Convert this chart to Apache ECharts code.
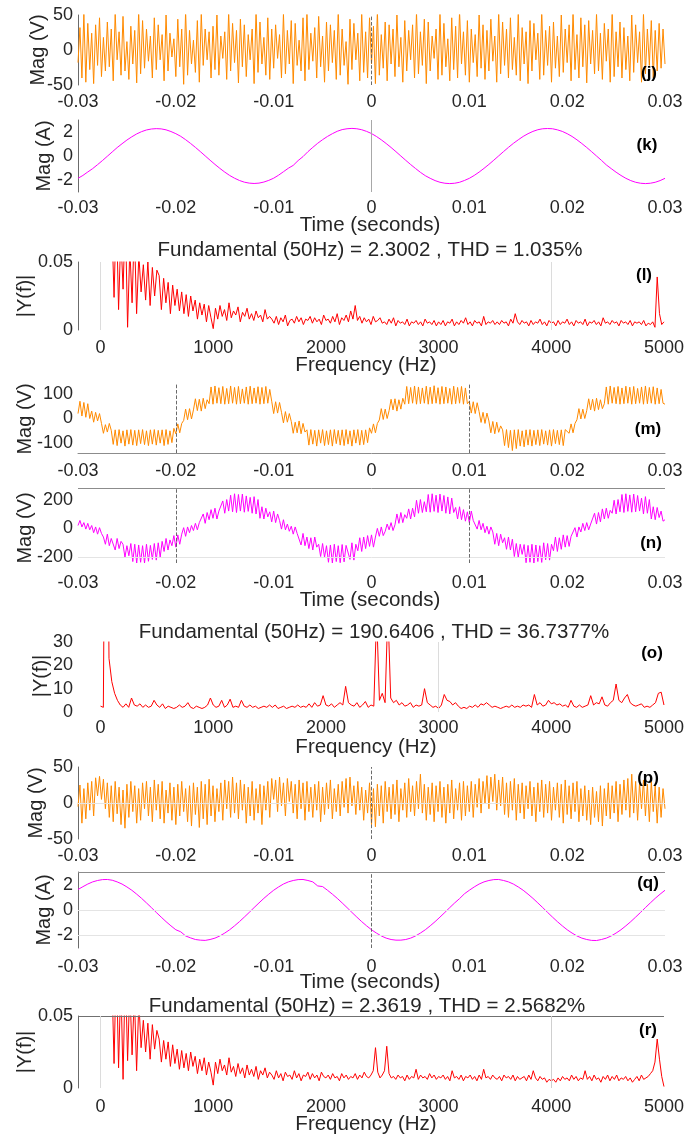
<!DOCTYPE html>
<html>
<head>
<meta charset="utf-8">
<script src="https://cdn.jsdelivr.net/npm/echarts@6.0.0/dist/echarts.min.js"></script>
<style>
html,body{margin:0;padding:0;background:#ffffff;}
#chart{width:687px;height:1137px;}
</style>
</head>
<body>
<div id="chart"></div>
<script>
// ---- sampling ranges ----
const T_START = -0.03, T_END = 0.03;        // time window (s)
const F_AXIS_MIN = -200, F_AXIS_MAX = 5000;  // spectrum axis range (Hz)

// ---- headline values ----
const FUND_L = 2.3002,   THD_L = 1.035;
const FUND_O = 190.6406, THD_O = 36.7377;
const FUND_R = 2.3619,   THD_R = 2.5682;

// (j) voltage, V
const voltJ = [
-18,32,-40,52,-46,38,-28,24,-48,36,-22,46,-38,18,-30,40,-24,30,-44,52,
-14,26,-36,48,-30,12,-42,34,-20,28,-47,55,-34,42,-26,30,-16,20,-40,46,
-28,36,-14,22,-44,50,-30,24,-10,16,-38,44,-24,30,-49,56,-36,28,-20,14,
-32,42,-46,52,-22,30,-14,26,-40,34,-28,50,-36,20,-12,26,-42,54,-30,38,
-18,28,-47,44,-24,36,-38,22,-14,30,-48,56,-32,40,-20,18,-36,46,-42,30,
-26,36,-12,22,-40,52,-34,28,-20,42,-48,38,-22,14,-30,46,-44,54,-28,24,
-16,32,-40,48,-24,20,-46,40,-30,36,-18,28,-42,54,-36,30,-22,12,-49,44,
-28,38,-14,24,-44,52,-32,26,-40,46,-20,34,-48,56,-36,22,-26,40,-44,36,
-20,30,-38,50,-24,18,-46,42,-30,28,-14,36,-40,54,-34,26,-22,44,-48,40,
-30,20,-12,30,-42,52,-36,38,-24,16,-44,46,-28,34,-40,56,-20,26,-36,42,
-46,30,-18,22,-38,50,-26,36,-42,28,-30,44,-16,20,-46,54,-34,40,-22,30,
-40,46,-28,18,-36,52,-44,32,-20,26,-48,42,-30,38,-14,24,-42,56,-36,28,
-22,34,-46,40,-26,20,-38,50,-32,30,-18,36,-44,54,-28,22,-40,46,-24,36,
-47,42,-20,28,-34,52,-30,24,-42,38,-16,30,-46,56,-38,26,-24,40,-40,32,
-28,20,-44,50,-32,36,-18,26,-46,52,-34,30,-22,42,-40,28,-30,38,-26,30,
-20];

// (k) current, A
const currK = [
-1.86,-1.62,-1.33,-1.05,-0.72,-0.38,-0.02,0.34,0.70,1.02,1.33,1.60,1.84,2.03,2.17,2.25,
2.28,2.26,2.18,2.04,1.86,1.64,1.36,1.05,0.72,0.37,0.01,-0.35,-0.70,-1.03,-1.34,-1.62,-1.85,-2.04,-2.18,-2.26,
-2.29,-2.26,-2.17,-2.03,-1.85,-1.60,-1.31,-1.02,-0.78,-0.38,-0.05,0.36,0.72,1.06,1.36,1.63,1.86,2.06,2.20,2.27,
2.30,2.27,2.19,2.05,1.87,1.63,1.35,1.04,0.71,0.36,0.00,-0.36,-0.71,-1.04,-1.36,-1.64,-1.86,-2.05,-2.19,-2.27,
-2.30,-2.27,-2.19,-2.04,-1.86,-1.62,-1.34,-1.03,-0.70,-0.35,0.01,0.37,0.72,1.05,1.35,1.63,1.86,2.05,2.19,2.27,
2.29,2.27,2.18,2.05,1.86,1.63,1.35,1.04,0.71,0.36,0.00,-0.36,-0.74,-1.05,-1.35,-1.62,-1.86,-2.05,-2.19,-2.27,
-2.30,-2.27,-2.19,-2.05,-1.86];

// (l) current spectrum |Y(f)|, from 100 Hz in 20 Hz bins
const specL_f0 = 100, specL_df = 20;
const specL = [
0.08,0.024,0.09,0.015,0.07,0.03,0.085,0.002,0.06,0.02,0.075,0.012,0.055,0.028,
0.048,0.022,0.05,0.018,0.046,0.025,0.044,
0.04,0.015,0.038,0.02,0.035,0.012,0.033,0.018,0.03,0.014,
0.028,0.012,0.026,0.01,0.025,0.014,0.022,0.008,0.02,0.011,0.019,0.006,0.018,0.009,0.001,
0.016,0.008,0.018,0.01,0.015,0.007,0.02,0.009,0.014,0.011,0.017,0.006,0.013,0.01,0.016,0.008,0.012,0.007,0.014,0.009,0.011,0.006,0.015,0.008,0.01,
0.008,0.005,0.01,0.004,0.009,0.006,0.011,0.003,0.007,0.008,0.005,0.01,0.006,0.009,0.004,0.008,0.007,0.01,0.005,0.009,0.006,0.008,0.004,0.011,0.007,
0.008,0.005,0.01,0.006,0.012,0.004,0.009,0.007,0.011,0.006,0.014,0.008,0.018,0.007,0.01,0.005,0.009,0.006,0.008,0.004,0.01,0.006,0.007,0.009,0.005,
0.006,0.004,0.008,0.005,0.009,0.003,0.007,0.005,0.006,0.004,0.008,0.003,0.006,0.005,0.007,0.004,0.006,0.003,0.008,0.005,0.006,0.004,0.007,0.003,0.006,
0.004,0.007,0.003,0.006,0.005,0.008,0.003,0.006,0.004,0.007,0.005,0.009,0.004,0.006,0.003,0.007,0.005,0.006,0.003,0.01,0.004,0.006,0.005,0.007,0.004,
0.006,0.004,0.007,0.005,0.006,0.003,0.008,0.005,0.012,0.006,0.004,0.007,0.005,0.006,0.003,0.007,0.004,0.006,0.005,0.008,0.004,0.006,0.003,0.007,0.005,
0.006,0.003,0.007,0.004,0.006,0.005,0.008,0.004,0.006,0.003,0.007,0.005,0.006,0.004,0.008,0.003,0.006,0.005,0.007,0.004,0.006,0.003,0.009,0.005,0.006,
0.004,0.007,0.005,0.006,0.003,0.007,0.005,0.006,0.004,0.007,0.003,0.006,0.005,0.006,0.004,0.007,0.003,0.005,0.004,0.006,
0.002,0.039,0.012,0.004,0.006];

// (m) voltage, V
const voltM = [
20,70,10,65,5,60,0,
30,-15,25,-10,20,
-20,-60,-25,-55,-20,
-48,-105,-46,-110,-45,-100,-50,-112,-46,-104,-45,-108,-48,-110,-46,-102,-45,-106,-50,-110,-46,-104,-45,-108,-48,-100,-46,-110,-45,-105,-50,-98,
-40,-62,-22,-58,-20,
-8,38,-5,40,-2,
35,80,32,78,30,82,40,76,
60,128,58,132,62,125,60,130,58,122,60,132,62,126,58,130,60,120,62,128,58,131,60,124,62,129,58,126,60,130,62,118,
70,20,68,22,65,
25,-18,28,-15,20,
-12,-60,-15,-58,-10,-62,-20,-55,
-46,-108,-45,-104,-48,-112,-46,-100,-45,-110,-50,-106,-46,-112,-45,-102,-48,-108,-46,-110,-45,-104,-50,-112,-46,-100,-45,-108,-48,-106,-46,-98,
-38,-60,-22,-58,-20,
-6,40,-4,38,0,
32,78,35,80,30,76,38,82,
58,130,60,126,62,132,58,128,60,124,62,131,58,127,60,133,62,125,58,130,60,128,62,122,58,131,60,126,62,130,58,124,60,
70,22,68,20,64,
28,-16,25,-20,22,
-10,-58,-12,-62,-15,-56,-30,
-46,-110,-45,-118,-48,-130,-46,-122,-45,-112,-50,-115,-46,-108,-45,-112,-48,-106,-46,-110,-45,-104,-50,-108,-46,-112,-45,-102,-48,-106,-46,-110,-45,
-40,-60,-22,-58,-20,
-5,40,-2,38,0,
32,80,35,78,30,82,36,76,40,
60,128,58,132,62,126,60,130,58,124,60,131,62,127,58,130,60,122,62,128,58,132,60,126,62,129,58,124,60,118,62,58];

// (n) voltage, V
const voltN = [
20,55,10,
40,-5,35,-10,20,
-30,10,-40,5,-35,
-60,-110,-40,-120,-70,
-80,-150,-70,-140,-90,
-110,-200,-120,-190,-105,
-230,-110,-240,-115,-235,-120,-240,-110,-228,-118,
-215,-105,-220,-100,-200,
-90,-160,-70,-150,-80,
-120,-50,-130,-45,-110,
-40,5,-55,10,-30,
20,-15,35,-10,40,
45,100,35,110,60,
130,70,140,65,120,
110,190,105,200,120,
230,115,240,110,235,120,238,112,225,118,
215,105,220,100,200,
70,150,65,140,80,
115,45,120,40,100,
55,-5,60,-10,30,
-20,15,-40,10,-35,
-40,-115,-35,-120,-60,
-140,-65,-150,-60,-130,
-110,-195,-105,-200,-120,
-235,-115,-240,-110,-230,-120,-238,-112,-232,-118,
-105,-215,-100,-220,-110,
-155,-65,-160,-60,-140,
-50,-125,-45,-130,-60,
0,-55,10,-50,-20,
30,-10,40,-15,25,
100,35,110,40,95,
70,135,65,140,80,
195,105,200,110,185,
115,235,112,240,118,230,110,238,120,228,
105,218,100,210,110,
145,65,150,60,130,
50,115,40,120,55,
60,-5,55,-10,35,
-30,15,-40,10,-25,
-110,-35,-120,-40,-100,
-65,-145,-60,-150,-75,
-195,-105,-200,-110,-180,
-112,-238,-118,-235,-110,-240,-115,-230,-120,-236,
-100,-218,-105,-220,-110,
-155,-60,-160,-65,-145,
-45,-130,-50,-125,-55,
-55,5,-60,10,-25,
35,-15,40,-10,30,
35,105,30,110,45,
135,65,140,70,125,
105,195,100,200,115,
235,110,240,118,232,112,238,115,228,120,
210,100,220,105,200,
65,150,60,145,75,
120,50,60];

// (o) voltage spectrum |Y(f)|, from 0 Hz in 25 Hz bins
const specO_f0 = 0, specO_df = 25;
const specO = [
2.5,2,FUND_O,23,13,8,5,3,2,3.5,2,6,3,2.5,3.5,2,3,2,2.5,5,
3,2,3.5,1.5,2.5,2,1.5,2,3,2,2.5,4,2,1.5,2.5,2,1.5,2,3,6,
3,2,2.5,5,2,3,5.5,2,2.5,2,5,2.5,2,3,2,2.5,1.5,2,2.5,2,
3,2,3,1.5,2,2.5,1.5,2,2.5,2,3,2,2.5,2,3.5,2,4,2.5,3,7,
3,2.5,3.5,2,3,4,3,11,4,3,2.5,4,2,3,4.5,2,3,2.5,42,5,
8,4,44,6,4,5,3,4,2.5,3,4,2,3,2.5,3,10,4,3,2,2.5,
1.5,3,7.5,5,4.5,3,4,2.5,1.5,2,1.5,2.5,2,3,2,3.5,3,4,3,2,
2.5,2,1.5,2,2.5,2,3,2,2.5,2,3,2.5,3,2,7.5,3,4,2.5,3,5,
3.5,4,3,3.5,2.5,3,2,5,2.5,2,3,2,2.5,3,7,3,4,3.5,6.5,3,
2.5,4,5,12,5,4,6,7.5,4,3,2.5,3,3.5,2,2.5,2,3,4,8,8.5,
3];

// (p) voltage, V
const voltP = [
-5,25,-28,20,-22,28,-10,30,-18,35,10,37,5,33,-8,28,-20,24,-26,30,
-15,22,-30,18,-35,26,-20,30,-12,24,-28,20,-24,28,-8,30,-18,22,-26,32,
-10,26,-22,30,-28,18,-14,28,-24,22,-30,26,-18,30,-12,20,-26,24,-32,28,
-16,22,-34,30,-22,26,-30,33,-18,24,-26,20,-12,28,-24,32,-8,30,-20,36,
-14,28,-22,32,-10,26,-28,22,-18,30,-24,20,-14,26,-30,24,-10,30,-20,34,
5,32,-12,36,-4,28,-18,34,2,30,-14,26,-22,32,-8,28,-24,30,-12,22,
-20,26,-10,30,-26,22,-16,28,-8,32,-22,20,-12,26,-18,30,-6,34,-14,36,
-4,24,-16,30,-10,22,-24,18,-14,28,-30,20,-33,26,-18,24,-28,30,-12,22,
-22,26,-16,32,-26,20,-10,28,-20,34,-12,24,-18,30,-8,40,-14,26,-24,22,
-16,28,-26,24,-12,30,-20,22,-28,26,-14,32,-22,20,-10,28,-24,30,-18,24,
-12,30,-20,26,-6,34,-14,30,0,38,-8,36,2,40,-10,32,-4,36,-16,28,
-20,30,-10,34,-24,26,-14,28,-22,24,-8,30,-18,22,-26,28,-12,32,-20,26,
-14,30,-24,22,-10,28,-20,26,-28,32,-16,24,-22,28,-12,30,-26,20,-18,24,
-24,18,-30,22,-20,16,-26,24,-32,20,-18,28,-22,24,-14,30,-26,26,-16,32,
-10,34,-20,40,-14,30,-24,28,-8,32,-18,26,-26,30,-12,24,-28,22,-20,20,
-8];

// (q) current, A
const currQ = [
1.62,1.84,2.05,2.22,2.33,2.40,2.41,2.35,2.22,2.05,1.82,1.56,1.25,0.92,0.56,0.19,-0.19,-0.56,-0.92,-1.25,
-1.56,-1.72,-2.05,-2.20,-2.33,-2.38,-2.40,-2.33,-2.22,-2.05,-1.82,-1.56,-1.25,-0.92,-0.56,-0.19,0.19,0.56,0.92,1.25,
1.56,1.82,2.05,2.22,2.33,2.40,2.41,2.33,2.22,1.90,1.85,1.56,1.25,0.92,0.56,0.19,-0.19,-0.56,-0.92,-1.25,
-1.56,-1.82,-2.05,-2.22,-2.33,-2.38,-2.38,-2.33,-2.22,-2.05,-1.82,-1.56,-1.25,-0.92,-0.56,-0.19,0.19,0.56,0.90,1.28,
1.56,1.82,2.05,2.22,2.33,2.40,2.41,2.33,2.22,2.05,1.82,1.56,1.25,0.92,0.56,0.19,-0.19,-0.56,-0.92,-1.25,
-1.56,-1.82,-2.05,-2.22,-2.33,-2.40,-2.41,-2.33,-2.22,-2.05,-1.82,-1.56,-1.25,-0.92,-0.56,-0.19,0.19,0.56,0.92,1.25,
1.56];

// (r) current spectrum |Y(f)|, from 100 Hz in 20 Hz bins
const specR_f0 = 100, specR_df = 20;
const specR = [
0.08,0.017,0.09,0.014,0.075,0.006,0.085,0.019,0.07,0.023,0.065,0.012,0.06,0.028,
0.047,0.025,0.045,0.02,0.044,0.027,0.04,
0.034,0.018,0.033,0.02,0.032,0.015,0.03,0.017,0.027,0.013,
0.026,0.014,0.024,0.012,0.025,0.015,0.022,0.01,0.02,0.012,0.021,0.009,0.018,0.011,0.002,
0.018,0.01,0.02,0.012,0.016,0.009,0.021,0.011,0.015,0.008,0.017,0.01,0.014,0.007,0.016,0.009,0.013,0.008,0.015,0.006,0.012,0.009,0.014,0.007,0.011,
0.009,0.006,0.012,0.007,0.01,0.005,0.011,0.008,0.009,0.006,0.012,0.007,0.01,0.005,0.009,0.008,0.011,0.006,0.01,0.007,0.009,0.005,0.011,0.008,0.007,
0.009,0.006,0.01,0.007,0.008,0.005,0.01,0.007,0.009,0.006,0.008,0.007,0.01,0.006,0.009,0.007,0.011,0.008,0.007,0.009,0.012,0.028,0.011,0.007,0.009,
0.012,0.029,0.01,0.007,0.008,0.006,0.009,0.007,0.008,0.005,0.009,0.006,0.008,0.007,0.013,0.006,0.009,0.007,0.008,0.006,0.01,0.007,0.009,0.006,0.008,
0.007,0.009,0.006,0.008,0.005,0.012,0.007,0.008,0.006,0.009,0.005,0.008,0.007,0.009,0.006,0.008,0.005,0.009,0.006,0.013,0.007,0.008,0.006,0.009,0.007,
0.006,0.008,0.005,0.009,0.007,0.008,0.006,0.009,0.005,0.008,0.006,0.007,0.008,0.005,0.009,0.006,0.012,0.007,0.005,0.008,0.006,0.007,0.004,0.006,0.005,
0.006,0.004,0.007,0.005,0.008,0.006,0.007,0.005,0.009,0.006,0.008,0.005,0.007,0.006,0.012,0.006,0.008,0.005,0.009,0.006,0.007,0.004,0.008,0.006,0.009,
0.005,0.008,0.006,0.009,0.005,0.007,0.006,0.008,0.005,0.007,0.004,0.006,0.008,0.005,0.009,0.006,0.007,0.008,0.01,0.012,
0.018,0.034,0.02,0.008,0.001];

// ---- helpers ----
function timePairs(vals) {
  const dt = (T_END - T_START) / (vals.length - 1);
  return vals.map((v, i) => [T_START + i * dt, v]);
}
function freqPairs(vals, f0, df) {
  return vals.map((v, i) => [f0 + i * df, v]);
}
const timeFmt = v => { const r = Math.round(v * 100) / 100; return r === 0 ? '0' : String(r); };
const freqFmt = v => { const r = Math.round(v); return r % 1000 === 0 ? String(r) : ''; };
const stepFmt = s => v => { const r = Math.round(v); return r % s === 0 ? String(r) : ''; };
const titleText = (f, thd) => 'Fundamental (50Hz) = ' + f + ' , THD = ' + thd + '%';

// ---- styling ----
const TEXT = '#262626';
const FONT = '"Liberation Sans", Arial, Helvetica, sans-serif';
const ORANGE = '#FF8A00', MAGENTA = '#FF00FF', RED = '#FF0000';
const AXIS = '#6b6b6b', DASH = '#5a5a5a', FAINT = '#dcdcdc';
const LEFT = 78, WIDTH = 587;

const panels = [
  { tag: '(j)', tagAt: [649, 73], top: 15, height: 70, kind: 'time', data: timePairs(voltJ), color: ORANGE,
    y: [-50, 50, 50], yFmt: null, xMargin: 8, yLine: true, xLine: false,
    yName: 'Mag (V)', yNameAt: [38, 50],
    refs: [{ x: 0, c: DASH, t: 'dashed' }] },
  { tag: '(k)', tagAt: [647, 145], top: 120, height: 72, kind: 'time', data: timePairs(currK), color: MAGENTA,
    y: [-3, 3, 1], yFmt: stepFmt(2), xMargin: 7, yLine: true, xLine: false,
    yName: 'Mag (A)', yNameAt: [44, 156], xName: 'Time (seconds)', xNameAt: [370, 225],
    refs: [{ x: 0, c: '#a8a8a8', t: 'solid' }] },
  { tag: '(l)', tagAt: [644, 275], top: 262, height: 68, kind: 'freq', data: freqPairs(specL, specL_f0, specL_df), color: RED,
    y: [0, 0.05, 0.05], yFmt: null, xMargin: 9, yLine: true, xLine: false,
    yName: '|Y(f)|', yNameAt: [25, 296], xName: 'Frequency (Hz)', xNameAt: [366, 365],
    title: titleText(FUND_L, THD_L), titleAt: [370, 250],
    refs: [{ x: 0, c: FAINT, t: 'solid' }, { x: 4000, c: FAINT, t: 'solid' }] },
  { tag: '(m)', tagAt: [648, 429], top: 384, height: 69, kind: 'time', data: timePairs(voltM), color: ORANGE,
    y: [-140, 140, 20], yFmt: stepFmt(100), xMargin: 9, yLine: false, xLine: true,
    yName: 'Mag (V)', yNameAt: [25, 419],
    refs: [{ x: -0.02, c: DASH, t: 'dashed' }, { x: 0.01, c: DASH, t: 'dashed' }] },
  { tag: '(n)', tagAt: [651, 543], top: 488, height: 75, kind: 'time', data: timePairs(voltN), color: MAGENTA,
    y: [-240, 280, 40], yFmt: stepFmt(200), xMargin: 11, yLine: false, xLine: false,
    yName: 'Mag (V)', yNameAt: [25, 528], xName: 'Time (seconds)', xNameAt: [370, 600],
    refs: [{ y: 280, c: '#8c8c8c', t: 'solid' }, { y: -200, c: '#e4e4e4', t: 'solid' },
           { x: -0.02, c: DASH, t: 'dashed' }, { x: 0.01, c: DASH, t: 'dashed' }] },
  { tag: '(o)', tagAt: [652, 653], top: 642, height: 70, kind: 'freq', data: freqPairs(specO, specO_f0, specO_df), color: RED,
    y: [0, 30, 10], yFmt: null, xMargin: 7, yLine: false, xLine: false,
    yName: '|Y(f)|', yNameAt: [41, 676], xName: 'Frequency (Hz)', xNameAt: [366, 747],
    title: titleText(FUND_O, THD_O), titleAt: [374, 632],
    refs: [{ x: 3000, c: FAINT, t: 'solid' }] },
  { tag: '(p)', tagAt: [648, 778], top: 767, height: 72, kind: 'time', data: timePairs(voltP), color: ORANGE,
    y: [-50, 50, 50], yFmt: null, xMargin: 8, yLine: true, xLine: false,
    yName: 'Mag (V)', yNameAt: [36, 803],
    refs: [{ y: 0, c: '#e4e4e4', t: 'solid' }, { x: 0, c: DASH, t: 'dashed' }] },
  { tag: '(q)', tagAt: [648, 883], top: 872, height: 76, kind: 'time', data: timePairs(currQ), color: MAGENTA,
    y: [-3, 3, 1], yFmt: stepFmt(2), xMargin: 10, yLine: true, xLine: false,
    yName: 'Mag (A)', yNameAt: [44, 910], xName: 'Time (seconds)', xNameAt: [370, 982],
    refs: [{ y: 3, c: '#8c8c8c', t: 'solid' }, { y: 0, c: '#e4e4e4', t: 'solid' }, { y: -2, c: '#e4e4e4', t: 'solid' },
           { x: 0, c: DASH, t: 'dashed' }] },
  { tag: '(r)', tagAt: [648, 1030], top: 1016, height: 72, kind: 'freq', data: freqPairs(specR, specR_f0, specR_df), color: RED,
    y: [0, 0.05, 0.05], yFmt: null, xMargin: 10, yLine: true, xLine: false,
    yName: '|Y(f)|', yNameAt: [25, 1052], xName: 'Frequency (Hz)', xNameAt: [366, 1124],
    title: titleText(FUND_R, THD_R), titleAt: [367, 1006],
    refs: [{ y: 0.05, c: '#707070', t: 'solid' }, { x: 0, c: FAINT, t: 'solid' }, { x: 4000, c: '#cfcfcf', t: 'solid' }] }
];

const labelStyle = { color: TEXT, fontSize: 18, fontFamily: FONT };

const grid = [], xAxis = [], yAxis = [], series = [], graphic = [];

function addText(text, at, size, opts) {
  const o = opts || {};
  graphic.push({
    type: 'text', x: at[0], y: at[1], rotation: o.rot ? Math.PI / 2 : 0, silent: true, z: 50,
    style: {
      text: text, fill: o.color || TEXT,
      font: (o.bold ? 'bold ' : '') + size + 'px ' + FONT,
      align: 'center', verticalAlign: 'middle',
      textAlign: 'center', textVerticalAlign: 'middle'
    }
  });
}

panels.forEach((p, i) => {
  grid.push({ left: LEFT, top: p.top, width: WIDTH, height: p.height, containLabel: false });
  const isTime = p.kind === 'time';
  xAxis.push({
    type: 'value', gridIndex: i,
    min: isTime ? T_START : F_AXIS_MIN,
    max: isTime ? T_END : F_AXIS_MAX,
    interval: isTime ? 0.01 : 200,
    axisLine: { show: p.xLine, onZero: false, lineStyle: { color: '#8c8c8c', width: 1 } },
    axisTick: { show: false },
    splitLine: { show: false },
    axisLabel: Object.assign({ margin: p.xMargin, formatter: isTime ? timeFmt : freqFmt }, labelStyle)
  });
  yAxis.push({
    type: 'value', gridIndex: i,
    min: p.y[0], max: p.y[1], interval: p.y[2],
    axisLine: { show: p.yLine, onZero: false, lineStyle: { color: AXIS, width: 1 } },
    axisTick: { show: false },
    splitLine: { show: false },
    axisLabel: Object.assign({ margin: 5, formatter: p.yFmt || (v => String(v)) }, labelStyle)
  });
  // reference lines drawn underneath the trace
  series.push({
    type: 'line', xAxisIndex: i, yAxisIndex: i, data: [], z: 1, silent: true, animation: false,
    markLine: {
      silent: true, animation: false, symbol: ['none', 'none'], label: { show: false },
      data: p.refs.map(r => {
        const item = r.x !== undefined ? { xAxis: r.x } : { yAxis: r.y };
        item.lineStyle = { color: r.c, type: r.t, width: r.t === 'dashed' ? 0.9 : 1 };
        return item;
      })
    }
  });
  series.push({
    type: 'line', xAxisIndex: i, yAxisIndex: i, data: p.data, z: 3,
    showSymbol: false, symbol: 'none', silent: true, animation: false, clip: true,
    lineStyle: { color: p.color, width: 1, join: 'bevel' }
  });

  addText(p.yName, p.yNameAt, 20, { rot: true });
  if (p.xName) addText(p.xName, p.xNameAt, 20.5);
  if (p.title) addText(p.title, p.titleAt, 20.5);
  addText(p.tag, p.tagAt, 17, { bold: true, color: '#000000' });
});

const chart = echarts.init(document.getElementById('chart'), null, { renderer: 'canvas' });
chart.setOption({
  animation: false,
  backgroundColor: '#ffffff',
  grid: grid, xAxis: xAxis, yAxis: yAxis, series: series, graphic: graphic
});
</script>
</body>
</html>
